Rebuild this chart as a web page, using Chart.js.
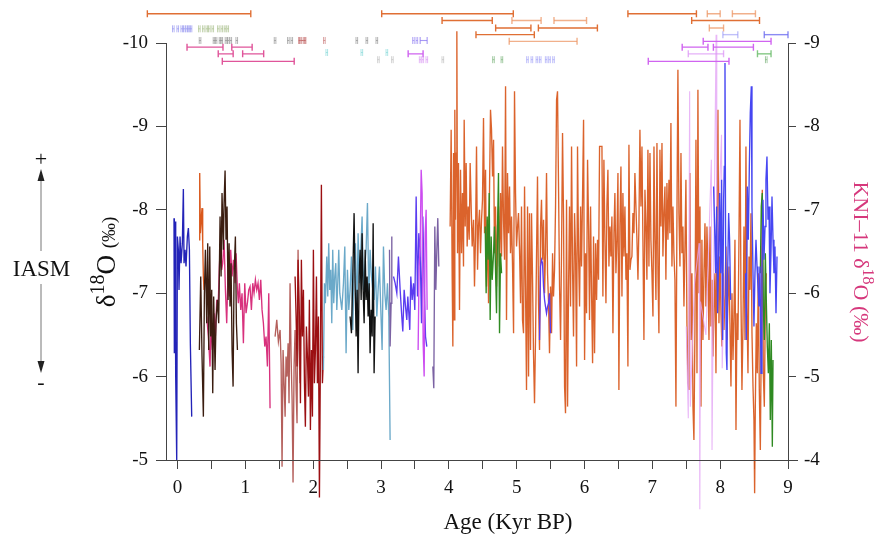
<!DOCTYPE html>
<html><head><meta charset="utf-8">
<script src="https://cdn.jsdelivr.net/npm/chart.js@4"></script>
<style>
body{margin:0;background:#fff;}
#wrap{position:relative;width:880px;height:536px;overflow:hidden;font-family:'Liberation Serif',serif;color:#111;}
canvas{position:absolute;left:0;top:0;}
.lbl{position:absolute;white-space:nowrap;line-height:1;transform:translate(-50%,-50%);}
.sup{position:relative;}
</style></head><body>
<div id="wrap">
<canvas id="c" width="880" height="536"></canvas>
<svg style="position:absolute;left:0;top:0" width="880" height="536">
  <line x1="41" y1="180" x2="41" y2="251" stroke="#777" stroke-width="1"/>
  <line x1="41" y1="284" x2="41" y2="363" stroke="#777" stroke-width="1"/>
  <polygon points="41,169 37.5,181 44.5,181" fill="#222"/>
  <polygon points="41,373 37.5,361 44.5,361" fill="#222"/>
</svg>
<div class="lbl" style="left:41px;top:159px;font-size:22px;">+</div>
<div class="lbl" style="left:41px;top:382px;font-size:22px;">-</div>
<div class="lbl" style="left:41.5px;top:268px;font-size:23px;">IASM</div>
<div class="lbl" style="left:106px;top:262px;font-size:27px;transform:translate(-50%,-50%) rotate(-90deg);">δ<span class="sup" style="font-size:20px;top:-11px;">18</span>O <span style="font-size:19px;">(‰)</span></div>
<div class="lbl" style="left:861px;top:262px;font-size:22px;color:#d6387c;transform:translate(-50%,-50%) rotate(90deg);">KNI–11 δ<span class="sup" style="font-size:16px;top:-9px;">18</span>O (‰)</div>
<div class="lbl" style="left:508px;top:521px;font-size:23px;">Age (Kyr BP)</div>
</div>
<script>
// ---------- axis ticks ----------
const xTickVals = [0,0.5,1,1.5,2,2.5,3,3.5,4,4.5,5,5.5,6,6.5,7,7.5,8,8.5,9];

// ---------- records (age in kyr BP, d18O in permil) ----------
const ageDarkBlue = [-0.052,-0.047,-0.037,-0.027,-0.012,-0.002,0.012,0.022,0.037,0.052,0.071,0.086,0.096,0.111,0.125,0.145,0.160,0.175,0.189,0.209];
const d18DarkBlue = [-7.90,-6.28,-7.86,-6.00,-5.00,-7.68,-7.52,-7.04,-7.68,-7.36,-7.60,-8.25,-7.36,-7.52,-7.32,-7.68,-7.78,-7.52,-6.40,-5.52];

const ageOrangeShort = [0.317,0.327,0.337,0.352,0.361,0.371,0.381,0.391];
const d18OrangeShort = [-7.64,-8.44,-7.72,-7.92,-8.02,-7.60,-7.20,-7.04];

const ageBrown = [0.322,0.342,0.361,0.381,0.396,0.411,0.430,0.445,0.460,0.475,0.489,0.504,0.519,0.533,0.553,0.568,0.588,0.607,0.627,0.642,0.656,0.676,0.686,0.701,0.715,0.730,0.745,0.760,0.774,0.789,0.804,0.819,0.833,0.853,0.868,0.883];
const d18Brown = [-6.32,-7.20,-6.24,-5.52,-7.00,-7.52,-6.64,-7.60,-6.32,-7.56,-6.48,-7.04,-5.80,-6.96,-6.08,-6.68,-6.92,-6.64,-7.92,-7.20,-8.20,-7.52,-8.08,-8.47,-7.64,-8.04,-6.92,-7.60,-6.84,-7.36,-6.32,-5.88,-7.20,-7.68,-6.64,-6.32];

// KNI-11 (right axis)
const ageKNI = [0.430,0.455,0.479,0.494,0.514,0.538,0.558,0.578,0.597,0.617,0.637,0.651,0.666,0.686,0.706,0.725,0.745,0.765,0.784,0.804,0.824,0.848,0.863,0.883,0.897,0.912,0.932,0.951,0.971,0.991,1.010,1.030,1.050,1.069,1.089,1.109,1.128,1.148,1.168,1.187,1.207,1.227,1.246,1.266,1.286,1.305,1.325,1.345,1.364];
const d18KNI = [-5.72,-5.48,-5.12,-5.64,-5.32,-5.76,-5.48,-5.92,-5.80,-6.32,-6.68,-6.28,-6.36,-6.64,-6.04,-5.64,-6.28,-5.96,-6.52,-6.20,-6.40,-6.12,-6.48,-6.04,-5.88,-6.12,-5.80,-6.00,-5.40,-6.12,-5.76,-5.88,-6.04,-6.08,-5.80,-6.12,-6.00,-6.16,-6.04,-6.12,-5.92,-6.16,-5.80,-5.64,-5.36,-5.48,-5.12,-6.00,-4.62];

const ageRosy = [1.438,1.463,1.487,1.512,1.527,1.541,1.556,1.571,1.586,1.600,1.615,1.630,1.644,1.659,1.674,1.689,1.703,1.718,1.733,1.748,1.762,1.777,1.792,1.807];
const d18Rosy = [-6.48,-6.68,-6.42,-6.56,-6.16,-4.92,-6.32,-5.92,-5.52,-6.24,-6.00,-6.40,-5.68,-7.12,-6.24,-5.72,-4.73,-6.12,-6.56,-5.84,-5.44,-7.52,-6.32,-5.92];

const ageDarkRed = [1.733,1.748,1.762,1.777,1.797,1.812,1.826,1.841,1.856,1.871,1.885,1.900,1.915,1.930,1.944,1.959,1.974,1.989,2.003,2.018,2.033,2.048,2.062,2.077,2.092,2.107,2.121,2.136,2.151];
const d18DarkRed = [-7.20,-6.72,-6.12,-7.40,-6.72,-5.68,-7.40,-6.48,-7.04,-5.92,-5.40,-6.60,-6.24,-5.76,-6.92,-5.36,-6.32,-5.52,-7.52,-5.92,-6.32,-7.20,-5.92,-6.72,-4.55,-6.32,-8.30,-5.92,-6.24];

const ageLightBlue = [2.151,2.166,2.180,2.200,2.215,2.229,2.244,2.259,2.274,2.288,2.303,2.318,2.333,2.348,2.362,2.377,2.392,2.422,2.446,2.466,2.485,2.505,2.525,2.544,2.564,2.584,2.603,2.623,2.643,2.662,2.682,2.702,2.721,2.741,2.761,2.780,2.800,2.820,2.839,2.859,2.879,2.898,2.918,2.938,2.957,2.977,2.997,3.016,3.036,3.056,3.075,3.095,3.115,3.134];
const d18LightBlue = [-6.08,-7.12,-6.88,-7.44,-6.96,-7.60,-7.04,-7.28,-6.64,-7.52,-6.88,-7.20,-7.36,-6.80,-7.12,-7.52,-7.00,-6.80,-7.12,-7.56,-6.28,-7.28,-6.80,-7.04,-7.44,-6.56,-7.28,-7.60,-6.72,-7.72,-7.12,-7.52,-7.92,-7.04,-7.32,-7.52,-8.08,-6.96,-7.52,-7.20,-7.04,-6.92,-7.32,-6.72,-7.04,-7.32,-6.80,-6.32,-7.56,-7.00,-6.80,-7.12,-6.72,-5.24];

const ageBlack = [2.544,2.564,2.584,2.603,2.618,2.633,2.648,2.662,2.677,2.692,2.707,2.721,2.736,2.751,2.766,2.780,2.795,2.810,2.825,2.839,2.854,2.869,2.884,2.898,2.913];
const d18Black = [-6.72,-6.52,-7.20,-7.96,-7.12,-6.48,-7.04,-6.04,-7.20,-7.52,-6.92,-7.72,-7.04,-6.64,-7.52,-6.92,-7.20,-6.72,-7.12,-6.28,-6.80,-6.48,-7.84,-6.04,-6.72];

const agePurpleA = [3.125,3.134,3.149,3.159];
const d18PurpleA = [-7.52,-6.36,-6.88,-7.68];
const agePurpleB = [3.764,3.778,3.793,3.808,3.823,3.837,3.852];
const d18PurpleB = [-6.12,-5.86,-7.80,-7.04,-7.52,-7.90,-7.32];

const ageViolet = [3.184,3.208,3.233,3.257,3.282,3.306,3.321,3.341,3.361,3.380,3.395,3.410,3.424,3.439,3.459,3.479,3.498,3.518,3.538,3.557,3.577,3.597,3.616,3.636,3.656,3.675];
const d18Violet = [-7.20,-7.12,-7.00,-7.44,-7.04,-6.72,-6.54,-7.04,-6.84,-6.68,-6.96,-6.76,-6.56,-7.20,-6.92,-7.12,-6.80,-8.16,-6.96,-7.72,-7.52,-6.64,-7.92,-7.12,-6.48,-6.36];

const ageMagenta = [3.547,3.562,3.577,3.592,3.606,3.621,3.636,3.651,3.665,3.680];
const d18Magenta = [-6.32,-7.32,-7.52,-8.48,-8.20,-6.40,-6.00,-7.72,-8.00,-6.80];

const ageGreenA = [4.536,4.550,4.565,4.580,4.595,4.609,4.624,4.639,4.659,4.673,4.688,4.703,4.718,4.732,4.747,4.762,4.777];
const d18GreenA = [-7.80,-7.00,-7.92,-7.40,-8.20,-6.68,-7.68,-7.16,-7.48,-7.80,-7.28,-6.76,-7.80,-8.44,-6.52,-7.48,-7.24];

const ageVioletB = [5.337,5.352,5.366,5.381,5.396,5.411,5.425,5.440,5.455,5.470,5.484,5.499];
const d18VioletB = [-6.44,-7.32,-7.40,-7.36,-7.08,-6.92,-6.84,-6.76,-6.84,-6.88,-7.00,-6.52];

const ageOrangeA = [4.019,4.034,4.049,4.059,4.069,4.078,4.088,4.098,4.108,4.118,4.128,4.142,4.157,4.172,4.187,4.201,4.216,4.226,4.241,4.255,4.270,4.285,4.300,4.314,4.329,4.344,4.364,4.378,4.393,4.408,4.423,4.437,4.452,4.467,4.482,4.496,4.511,4.526,4.541,4.555,4.570,4.585,4.600,4.614,4.629,4.644,4.659,4.673,4.688,4.703,4.718,4.732,4.747,4.762,4.777,4.791,4.806,4.821,4.836,4.850,4.865,4.880,4.895,4.909,4.924,4.939,4.954,4.968,4.983,4.998,5.013,5.027,5.042,5.057,5.071,5.086,5.101,5.116,5.130,5.145,5.160,5.175,5.189,5.204,5.219,5.234,5.248,5.263,5.278,5.293,5.307,5.322,5.337,5.352,5.366,5.381,5.396,5.411,5.425,5.440,5.455,5.470,5.484,5.499,5.514,5.529,5.543,5.558,5.573,5.588,5.602,5.617,5.632,5.647,5.661,5.676,5.691,5.706,5.720,5.735,5.750,5.765,5.779,5.794,5.809,5.824,5.838,5.853,5.868,5.883,5.897,5.912,5.927,5.942,5.956,5.971,5.986,6.001,6.015,6.030,6.045,6.060,6.074,6.089,6.104,6.119,6.133,6.148,6.163,6.178,6.192,6.207,6.222];
const d18OrangeA = [-7.80,-8.96,-7.20,-6.36,-8.68,-6.68,-9.20,-7.88,-8.68,-10.14,-7.48,-8.56,-6.80,-8.48,-7.48,-8.20,-7.32,-9.08,-7.80,-8.56,-7.56,-8.04,-7.64,-8.56,-8.04,-7.56,-7.88,-7.08,-7.68,-8.76,-7.28,-7.80,-8.00,-7.48,-7.88,-8.12,-9.10,-7.72,-8.48,-7.08,-7.88,-6.88,-8.28,-9.20,-8.96,-8.40,-8.84,-7.48,-8.04,-7.08,-7.80,-8.04,-7.32,-8.20,-7.44,-8.76,-7.88,-7.40,-9.48,-6.68,-8.44,-7.72,-8.28,-7.48,-7.92,-7.32,-6.52,-9.42,-8.20,-7.56,-7.80,-7.96,-7.52,-6.88,-8.04,-6.68,-6.52,-8.28,-7.08,-5.84,-8.04,-6.00,-7.96,-6.32,-7.96,-7.16,-6.28,-5.68,-6.48,-7.48,-8.40,-6.88,-6.32,-7.80,-8.12,-7.40,-7.88,-7.00,-7.48,-8.44,-7.24,-6.88,-6.28,-7.08,-6.52,-7.48,-6.96,-7.28,-8.04,-9.32,-9.42,-8.28,-7.08,-6.44,-7.48,-8.92,-7.88,-5.88,-5.56,-8.12,-5.64,-7.08,-8.04,-6.84,-8.76,-7.28,-6.48,-7.96,-7.48,-6.12,-8.76,-7.48,-6.84,-8.04,-7.32,-8.16,-9.08,-6.20,-7.48,-6.76,-8.60,-7.80,-6.68,-8.04,-7.00,-6.16,-7.68,-6.28,-7.60,-6.92,-7.64,-7.16,-8.76];
const ageOrangeB = [6.257,6.271,6.286,6.301,6.316,6.330,6.345,6.360,6.375,6.389,6.404,6.419,6.434,6.448,6.463,6.478,6.493,6.507,6.522,6.537,6.552,6.566,6.581,6.596,6.611,6.625,6.640,6.655,6.670,6.684,6.699,6.714,6.729,6.743,6.758,6.773,6.788,6.802,6.817,6.832,6.847,6.861,6.876,6.891,6.906,6.920,6.935,6.950,6.965,6.979,6.994,7.009,7.024,7.038,7.053,7.068,7.083,7.097,7.112,7.127,7.142,7.156,7.171,7.186,7.200,7.215,7.230,7.245,7.259,7.274,7.289,7.304,7.318,7.333,7.348,7.363,7.377,7.392,7.407,7.422,7.436,7.451,7.466,7.481,7.495,7.510,7.525,7.540,7.554,7.569,7.584,7.599,7.613,7.628,7.643,7.658,7.672,7.687,7.702,7.717,7.731,7.746,7.761,7.776,7.790,7.805,7.820,7.835,7.849,7.864,7.879,7.894,7.908,7.923,7.938,7.953,7.967,7.982,7.997,8.012,8.026,8.041,8.056,8.071,8.085,8.100,8.115,8.130,8.144,8.159,8.174,8.189,8.203,8.218,8.233,8.248,8.262,8.277,8.292,8.307,8.321,8.336,8.351,8.366,8.380,8.395,8.410,8.425,8.439,8.454,8.469,8.484,8.498,8.508,8.518,8.533,8.547,8.562,8.577,8.592,8.606,8.621,8.636,8.651,8.666,8.680];
const d18OrangeB = [-8.76,-6.96,-8.60,-7.64,-6.88,-8.04,-8.48,-7.32,-7.80,-7.44,-7.92,-6.52,-7.72,-8.20,-7.24,-7.64,-8.44,-5.84,-7.80,-8.52,-6.96,-8.20,-7.44,-8.04,-7.16,-7.48,-6.12,-8.78,-7.28,-7.40,-7.44,-7.96,-7.72,-8.44,-8.04,-7.64,-7.16,-7.80,-8.96,-8.04,-8.76,-7.64,-6.44,-8.24,-7.80,-7.16,-8.72,-7.32,-8.68,-7.64,-7.24,-6.72,-8.76,-7.64,-6.92,-8.80,-7.24,-6.52,-8.72,-7.80,-8.80,-7.44,-7.96,-8.28,-7.16,-8.32,-7.64,-8.36,-7.72,-9.04,-7.32,-8.04,-7.48,-7.16,-5.64,-7.96,-9.68,-7.96,-7.32,-8.68,-7.48,-7.80,-6.84,-7.56,-8.36,-6.64,-5.92,-5.84,-8.44,-6.44,-7.24,-5.64,-5.24,-6.56,-8.84,-6.04,-9.44,-7.00,-8.04,-5.64,-7.64,-6.44,-7.24,-7.84,-6.84,-7.80,-7.24,-6.44,-7.80,-6.60,-7.16,-6.24,-6.84,-7.24,-6.04,-7.96,-9.20,-6.64,-7.44,-6.76,-6.36,-7.24,-6.56,-7.00,-7.56,-6.44,-6.92,-7.32,-6.64,-5.88,-7.00,-6.20,-6.72,-7.64,-5.36,-6.76,-6.44,-7.64,-9.08,-6.92,-5.84,-6.60,-7.80,-6.44,-8.76,-6.84,-6.04,-7.44,-7.04,-7.96,-6.52,-5.88,-5.48,-4.60,-5.64,-6.64,-6.04,-7.24,-5.84,-5.12,-6.44,-8.24,-6.04,-5.64,-6.84,-7.24];

const ageLavender = [7.50,7.53,7.55,7.56,7.62,7.69,7.70,7.71,7.79,7.87,7.88,7.90,7.94,7.95,8.02,8.03,8.06];
const d18Lavender = [-6.60,-5.50,-9.42,-5.64,-7.10,-7.60,-4.41,-6.90,-6.50,-8.60,-5.12,-7.00,-10.10,-7.30,-8.90,-6.10,-7.20];

const ageBlueA = [7.903,7.918,7.933,7.948,7.962,7.977,7.992,8.007,8.021,8.036,8.051,8.061,8.071,8.080,8.090,8.100,8.110,8.125,8.139,8.154];
const d18BlueA = [-8.28,-7.80,-7.24,-8.04,-6.76,-7.44,-8.20,-7.24,-8.36,-6.44,-8.12,-8.52,-9.76,-7.64,-6.28,-6.08,-7.24,-7.96,-7.64,-6.92];
const ageBlueB = [8.375,8.385,8.400,8.415,8.430,8.444,8.459,8.469,8.484,8.498,8.513,8.528,8.543,8.557,8.572,8.587,8.602,8.616,8.631,8.646,8.661,8.675,8.690,8.705,8.720,8.734,8.749,8.764,8.779,8.793,8.808,8.823,8.838];
const d18BlueB = [-7.24,-6.44,-8.28,-7.64,-8.52,-9.16,-9.48,-8.04,-7.24,-6.60,-7.24,-7.64,-7.32,-7.08,-6.84,-7.32,-6.04,-7.24,-8.12,-7.40,-7.80,-8.36,-8.64,-7.88,-8.04,-7.00,-7.48,-8.16,-7.64,-7.24,-7.56,-6.76,-7.44];

const ageGreenB = [8.592,8.606,8.621,8.636,8.651,8.666,8.680,8.695,8.710,8.725,8.739,8.754,8.769,8.779];
const d18GreenB = [-7.24,-8.04,-8.20,-6.84,-6.44,-7.48,-6.92,-6.36,-6.04,-6.64,-5.48,-6.44,-5.16,-6.20];

// ---------- dating uncertainties: [from, to, plotted level] ----------
const errOrange = [[-0.445,1.08,-10.35],[3.01,4.95,-10.35],[3.90,4.64,-10.27],[4.69,5.21,-10.18],[5.32,6.19,-10.18],[4.40,5.26,-10.10],[6.64,7.65,-10.35],[7.58,8.58,-10.27]];
const errOrangeLight = [[4.93,5.36,-10.27],[5.55,6.03,-10.27],[4.89,5.89,-10.02],[7.81,8.00,-10.35],[8.18,8.52,-10.35],[7.84,8.05,-10.18]];
const errBlue = [[8.65,9.00,-10.10]];
const errBlueLight = [[8.04,8.26,-10.10]];
const errMagenta = [[7.75,8.75,-10.02],[7.44,7.82,-9.95],[7.90,8.49,-9.95],[6.94,8.13,-9.78],[3.40,3.62,-9.87]];
const errMagentaLight = [[7.53,8.05,-9.87]];
const errGreen = [[8.55,8.75,-9.87]];
const errPink = [[0.14,0.67,-9.95],[0.80,1.10,-9.95],[0.60,0.82,-9.87],[0.96,1.27,-9.87],[0.66,1.72,-9.78]];
const errViolet = [[3.577,3.680,-10.03]];
const errRosy = [[1.797,1.881,-10.03]];

// small dating errors: ages (plotted level in comments)
const datesBlueLight = [-0.062,0.003,0.062,0.100,0.136,0.170,0.199];   // -10.17
const datesGreenGrey = [0.322,0.381,0.431,0.469,0.519,0.602,0.652,0.701,0.740]; // -10.17
const datesGrey = [0.332,0.538,0.568,0.627,0.652,0.715,0.749,0.785,0.873,1.438,1.634,1.684,2.643,2.791,2.938]; // -10.03
const datesRed = [1.797,1.841,1.881,2.165]; // -10.03
const datesViolet = [3.478,3.528]; // -10.03
const datesCyan = [2.200,2.717,3.086]; // -9.886
const datesLightGrey = [2.962,3.168,3.911]; // -9.80
const datesLightMagenta = [3.577,3.616,3.675]; // -9.80
const datesGreen = [4.658,4.782,8.68]; // -9.80
const datesLightBlue = [5.159,5.224,5.298,5.347,5.435,5.484,5.543]; // -9.80

// ---------- builders ----------
const pts = (xs, ys) => xs.map((x, i) => ({x, y: ys[i]}));
const bars = list => { const o = []; list.forEach(([a, b, l]) => { o.push({x:a,y:l},{x:b,y:l},{x:b,y:null}); }); return o; };
const marks = (xs, level) => bars(xs.map(x => [x - 0.012, x + 0.012, level]));

function line(data, color, w, axis) {
  return {data, borderColor: color, backgroundColor: color, borderWidth: w || 1.35, showLine: true,
          pointRadius: 0, tension: 0, clip: false, spanGaps: false, yAxisID: axis || 'y'};
}
function err(data, color, w) {
  return {data, isErr: true, borderColor: color, backgroundColor: color, borderWidth: w || 1.4, showLine: true,
          pointRadius: 0, capHalf: 3.5, clip: false, spanGaps: false, yAxisID: 'y'};
}

const datasets = [
  err(bars(errOrange), '#e06f34'),
  err(bars(errOrangeLight), 'rgba(236,150,100,0.75)'),
  err(bars(errBlue), 'rgba(110,110,240,0.8)'),
  err(bars(errBlueLight), 'rgba(150,150,245,0.6)'),
  err(bars(errMagenta), '#d064f0'),
  err(bars(errMagentaLight), 'rgba(220,150,245,0.75)'),
  err(bars(errGreen), 'rgba(110,190,110,0.85)'),
  err(bars(errPink), '#e0559a'),
  err(bars(errViolet), 'rgba(130,110,240,0.7)', 1.1),
  err(bars(errRosy), 'rgba(190,100,100,0.6)', 1.1),
  err(marks(datesBlueLight, -10.17), 'rgba(110,110,235,0.5)', 1),
  err(marks(datesGreenGrey, -10.17), 'rgba(140,170,100,0.5)', 1),
  err(marks(datesGrey, -10.03), 'rgba(120,120,120,0.55)', 1),
  err(marks(datesRed, -10.03), 'rgba(190,90,90,0.55)', 1),
  err(marks(datesViolet, -10.03), 'rgba(130,110,240,0.55)', 1),
  err(marks(datesCyan, -9.886), 'rgba(110,210,210,0.55)', 1),
  err(marks(datesLightGrey, -9.80), 'rgba(170,170,170,0.5)', 1),
  err(marks(datesLightMagenta, -9.80), 'rgba(210,130,240,0.55)', 1),
  err(marks(datesGreen, -9.80), 'rgba(90,160,90,0.55)', 1),
  err(marks(datesLightBlue, -9.80), 'rgba(140,140,245,0.55)', 1),

  line(pts(ageBlueA, d18BlueA), '#4646f2'),
  line(pts(ageBlueB, d18BlueB), '#4646f2'),
  line(pts(ageGreenB, d18GreenB), '#2f8a22'),
  line(pts(ageGreenA, d18GreenA), '#2f8a22'),
  line(pts(ageVioletB, d18VioletB), '#5a3cf0'),
  line(pts(ageLavender, d18Lavender), 'rgba(228,165,245,0.8)', 1.1),
  line(pts(ageOrangeA.concat(ageOrangeB), d18OrangeA.concat(d18OrangeB)), 'rgba(216,86,26,0.92)'),
  line(pts(ageMagenta, d18Magenta), '#cc4cf0'),
  line(pts(ageViolet, d18Violet), '#5a3cf0'),
  line(pts(agePurpleA, d18PurpleA), '#7b62a3'),
  line(pts(agePurpleB, d18PurpleB), '#7b62a3'),
  line(pts(ageBlack, d18Black), '#111111'),
  line(pts(ageLightBlue, d18LightBlue), '#6ba9c9'),
  line(pts(ageDarkRed, d18DarkRed), '#9b0f12'),
  line(pts(ageRosy, d18Rosy), '#b5605c'),
  line(pts(ageBrown, d18Brown), '#3b1d10'),
  line(pts(ageKNI, d18KNI), '#d8317d', 1.35, 'y2'),
  line(pts(ageOrangeShort, d18OrangeShort), '#d9581c'),
  line(pts(ageDarkBlue, d18DarkBlue), '#2323b8')
];

// end caps of the dating-error bars, placed at the points the library computed
const capPlugin = {
  id: 'caps',
  afterDatasetsDraw(c) {
    const ctx = c.ctx;
    c.data.datasets.forEach((ds, i) => {
      if (!ds.isErr) return;
      const meta = c.getDatasetMeta(i);
      ctx.save();
      ctx.strokeStyle = ds.borderColor; ctx.lineWidth = ds.borderWidth;
      ctx.beginPath();
      meta.data.forEach((p, j) => {
        if (ds.data[j].y === null) return;
        ctx.moveTo(p.x, p.y - ds.capHalf); ctx.lineTo(p.x, p.y + ds.capHalf);
      });
      ctx.stroke();
      ctx.restore();
    });
  }
};

const axisExt = {
  id: 'axisExt',
  afterDraw(c) {
    const {ctx, chartArea: a} = c;
    ctx.save();
    ctx.strokeStyle = '#444'; ctx.lineWidth = 1;
    ctx.beginPath();
    ctx.moveTo(a.left - 10, Math.round(a.bottom) + 0.5);
    ctx.lineTo(a.right + 10, Math.round(a.bottom) + 0.5);
    ctx.stroke();
    ctx.restore();
  }
};

const tickFont = {family: "'Liberation Serif', 'Times New Roman', serif", size: 19};
const gridCommon = {drawOnChartArea: false, drawTicks: true, color: '#444', tickColor: '#444', tickWidth: 1};

new Chart(document.getElementById('c'), {
  type: 'scatter',
  data: {datasets},
  options: {
    responsive: false, animation: false, devicePixelRatio: 1,
    layout: {padding: {top: 43, left: 0, right: 0, bottom: 0}},
    plugins: {legend: {display: false}, tooltip: {enabled: false}},
    scales: {
      x: {
        type: 'linear', position: 'bottom', min: -0.17, max: 9,
        afterBuildTicks: s => { s.ticks = xTickVals.map(v => ({value: v})); },
        afterFit: s => { s.height = 76; },
        ticks: {callback: v => Number.isInteger(v) ? String(v) : '', font: tickFont, color: '#111', padding: 8, maxRotation: 0, autoSkip: false},
        grid: Object.assign({tickLength: 9}, gridCommon),
        border: {display: true, color: '#444', width: 1}
      },
      y: {
        position: 'left', reverse: true, min: -10, max: -5,
        afterFit: s => { s.width = 166; },
        ticks: {stepSize: 1, font: tickFont, color: '#111', padding: 8},
        grid: Object.assign({tickLength: 10}, gridCommon),
        border: {display: true, color: '#444', width: 1}
      },
      y2: {
        position: 'right', reverse: true, min: -9, max: -4,
        afterFit: s => { s.width = 92; },
        ticks: {stepSize: 1, font: tickFont, color: '#111', padding: 8},
        grid: Object.assign({tickLength: 8}, gridCommon),
        border: {display: true, color: '#444', width: 1}
      }
    }
  },
  plugins: [capPlugin, axisExt]
});
</script>
</body></html>
